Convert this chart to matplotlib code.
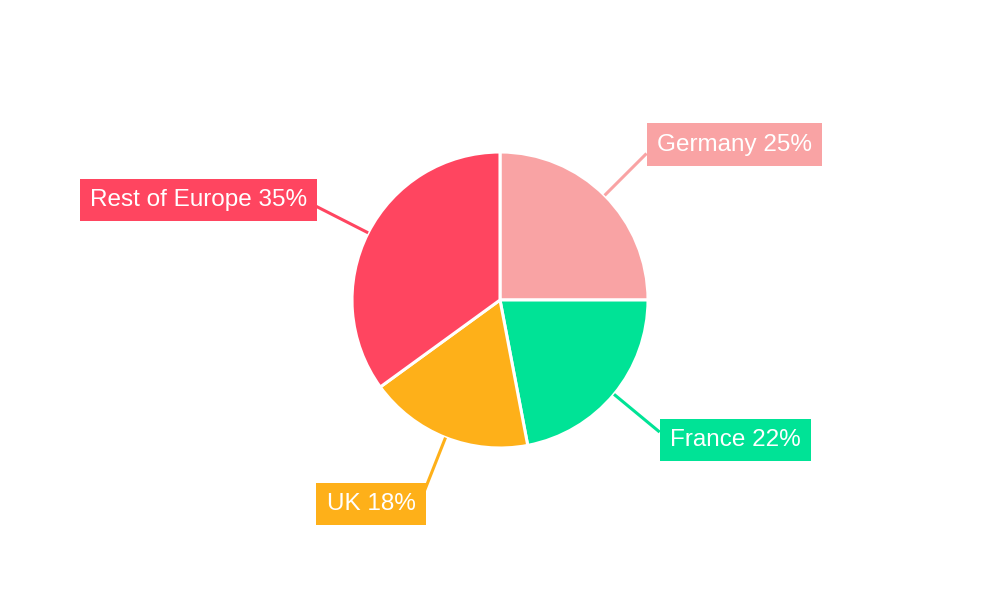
import numpy as np
import matplotlib
matplotlib.use("Agg")
import matplotlib.pyplot as plt

# data
labels = ["Germany", "France", "UK", "Rest of Europe"]
shares = [25, 22, 18, 35]
colors = ["#F9A3A4", "#00E396", "#FEB019", "#FF4560"]

plt.rcParams['font.family'] = ['Liberation Sans', 'DejaVu Sans']

fig = plt.figure(figsize=(10, 6), dpi=100)
ax = fig.add_axes([0, 0, 1, 1])

cx, cy, r = 500, 300, 148
wedges, _ = ax.pie(shares, colors=colors, startangle=90, counterclock=False,
                   center=(cx, cy), radius=r, frame=True,
                   wedgeprops=dict(edgecolor='white', linewidth=2.2))
ax.set_xlim(0, 1000)
ax.set_ylim(0, 600)
ax.set_aspect('equal')
ax.axis('off')

fs = 17.5
pad = 0.42  # box padding, fraction of font size
pad_px = pad * fs * 100 / 72

# leader lines + boxed labels
for w, lab, val, col in zip(wedges, labels, shares, colors):
    ang = np.deg2rad((w.theta1 + w.theta2) / 2)
    ca, sa = np.cos(ang), np.sin(ang)
    x0, y0 = cx + r * ca, cy + r * sa
    x1, y1 = cx + 1.4 * r * ca, cy + 1.4 * r * sa
    ax.plot([x0, x1], [y0, y1], color=col, lw=2.2, solid_capstyle='butt', zorder=3)
    if ca >= 0:
        tx, ha = x1 + pad_px, 'left'
    else:
        tx, ha = x1 - pad_px + 2, 'right'
    ty = y1 + 12.5 * sa
    ax.text(tx, ty, f"{lab} {val}%", ha=ha, va='center', fontsize=fs,
            color='white', zorder=4,
            bbox=dict(boxstyle=f'square,pad={pad}', facecolor=col, edgecolor='none'))

fig.savefig("out.png", dpi=100)
